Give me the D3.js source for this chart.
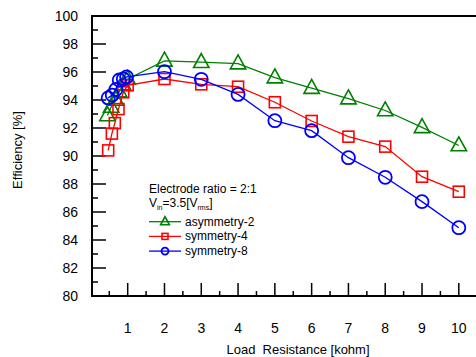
<!DOCTYPE html>
<html><head><meta charset="utf-8">
<script src="https://cdn.jsdelivr.net/npm/d3@7"></script>
<style>body{margin:0;background:#fff}svg{display:block}text{font-family:"Liberation Sans",Arial,sans-serif}</style>
</head><body><svg id="c" width="476" height="357"></svg>
<script>
const xTicks = [1,2,3,4,5,6,7,8,9,10];
const yTicks = [80,82,84,86,88,90,92,94,96,98,100];
const xAsym = [0.45,0.55,0.68,0.77,0.88,1.0,2,3,4,5,6,7,8,9,10];
const asym2 = [92.9,93.5,94.0,94.6,95.1,95.5,96.8,96.7,96.6,95.6,94.85,94.1,93.25,92.05,90.75];
const xSym4 = [0.47,0.57,0.65,0.75,0.88,1.0,2,3,4,5,6,7,8,9,10];
const sym4 = [90.4,91.6,92.35,93.35,94.55,95.05,95.5,95.12,94.95,93.84,92.5,91.38,90.67,88.52,87.45];
const xSym8 = [0.47,0.58,0.68,0.77,0.88,0.97,2,3,4,5,6,7,8,9,10];
const sym8 = [94.15,94.35,94.75,95.43,95.5,95.65,96.02,95.48,94.4,92.52,91.81,89.88,88.48,86.74,84.88];
const seriesNames = ["asymmetry-2","symmetry-4","symmetry-8"];
const colors = ["#008000","#ff0000","#0000ff"];

const svg = d3.select("#c");
const x = d3.scaleLinear().domain([0,10.44]).range([90.9,475]);
const y = d3.scaleLinear().domain([80,100]).range([296,16]);
const x0 = 92;

// frame lines
svg.append("line").attr("x1",x0).attr("x2",476).attr("y1",16).attr("y2",16).attr("stroke","#000").attr("stroke-width",2);
svg.append("line").attr("x1",x0).attr("x2",476).attr("y1",296).attr("y2",296).attr("stroke","#000").attr("stroke-width",2);
svg.append("line").attr("x1",x0).attr("x2",x0).attr("y1",15).attr("y2",297).attr("stroke","#000").attr("stroke-width",2);

// y ticks (inward)
const yAll = d3.range(81,100,1);
svg.append("g").selectAll("line").data(yAll).join("line")
  .attr("x1",x0).attr("x2",d=>x0+(d%2===0?14:6))
  .attr("y1",d=>y(d)).attr("y2",d=>y(d)).attr("stroke","#000").attr("stroke-width",1.5);
svg.append("g").selectAll("text").data(yTicks).join("text")
  .attr("x",78).attr("y",d=>y(d)+5).attr("text-anchor","end").attr("font-size",14).text(d=>d);

// x ticks
const xAll = d3.range(1,21).map(d=>d/2);
svg.append("g").selectAll("line").data(xAll).join("line")
  .attr("x1",d=>x(d)).attr("x2",d=>x(d))
  .attr("y1",296).attr("y2",d=>296-(Number.isInteger(d)?13:5)).attr("stroke","#000").attr("stroke-width",1.5);
svg.append("g").selectAll("text").data(xTicks).join("text")
  .attr("x",d=>x(d)).attr("y",333).attr("text-anchor","middle").attr("font-size",14).text(d=>d);

// axis titles
svg.append("text").attr("x",298).attr("y",354).attr("text-anchor","middle").attr("font-size",13).attr("xml:space","preserve").text("Load  Resistance [kohm]");
svg.append("text").attr("transform","translate(22,150) rotate(-90)").attr("text-anchor","middle").attr("font-size",13).text("Efficiency [%]");

const data = [
  {xs:xAsym, ys:asym2, shape:"tri"},
  {xs:xSym4, ys:sym4, shape:"sq"},
  {xs:xSym8, ys:sym8, shape:"circ"}
];
const line = d3.line().x(d=>x(d[0])).y(d=>y(d[1]));

function marker(g, shape, color, s){
  if(shape==="tri"){
    g.append("path").attr("d",`M0,${-s*0.62}L${s*0.55},${s*0.38}L${-s*0.55},${s*0.38}Z`).attr("fill","none").attr("stroke",color).attr("stroke-width",1.6);
  } else if(shape==="sq"){
    g.append("rect").attr("x",-s/2).attr("y",-s/2).attr("width",s).attr("height",s).attr("fill","none").attr("stroke",color).attr("stroke-width",1.6);
  } else {
    g.append("circle").attr("r",s/2).attr("fill","none").attr("stroke",color).attr("stroke-width",1.8);
  }
}

data.forEach((s,i)=>{
  const pts = s.xs.map((v,j)=>[v,s.ys[j]]);
  svg.append("path").attr("d",line(pts)).attr("fill","none").attr("stroke",colors[i]).attr("stroke-width",1.3);
  const size = s.shape==="tri"?14:(s.shape==="sq"?11:13);
  pts.forEach(p=>{
    const g = svg.append("g").attr("transform",`translate(${x(p[0])},${y(p[1])})`);
    marker(g, s.shape, colors[i], size);
  });
});

// legend
const lg = svg.append("g");
lg.append("text").attr("x",149).attr("y",193).attr("font-size",12).text("Electrode ratio = 2:1");
const vt = lg.append("text").attr("x",149).attr("y",207).attr("font-size",12);
vt.append("tspan").text("V");
vt.append("tspan").attr("font-size",7).attr("dy",3).text("in");
vt.append("tspan").attr("dy",-3).text("=3.5[V");
vt.append("tspan").attr("font-size",7).attr("dy",3).text("rms");
vt.append("tspan").attr("dy",-3).text("]");
const shapes = ["tri","sq","circ"];
seriesNames.forEach((n,i)=>{
  const yy = 221.7 + i*14.7;
  lg.append("line").attr("x1",149).attr("x2",181).attr("y1",yy).attr("y2",yy).attr("stroke",colors[i]).attr("stroke-width",1.3);
  const g = lg.append("g").attr("transform",`translate(165,${yy})`);
  marker(g, shapes[i], colors[i], shapes[i]==="tri"?8:(shapes[i]==="sq"?6:7));
  lg.append("text").attr("x",185).attr("y",yy+4).attr("font-size",12).text(n);
});
</script></body></html>
